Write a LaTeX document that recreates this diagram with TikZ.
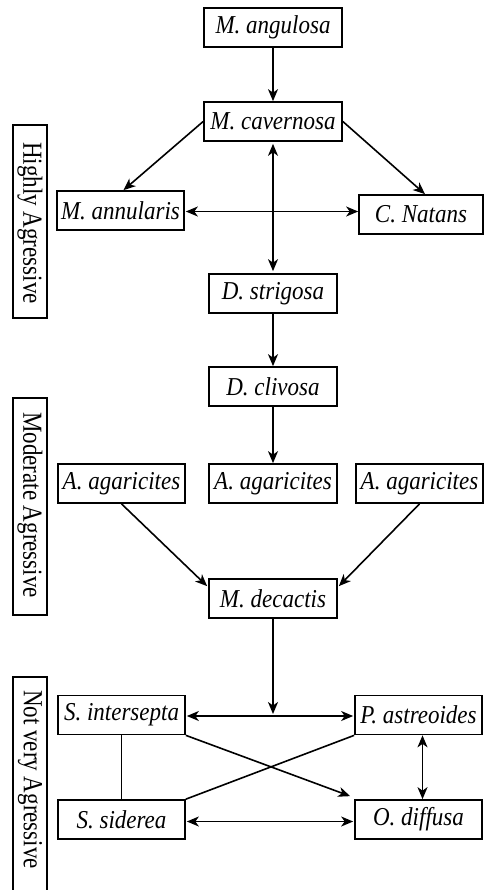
\documentclass[tikz,border=0pt]{standalone}
\usepackage{fontspec}
\setmainfont{Liberation Serif}
\usetikzlibrary{arrows.meta,calc}
\newcommand\tallt[1]{\scalebox{1}[1.12]{#1}}
\tikzset{
  sp/.style={draw, line width=1.7pt, inner sep=0pt, minimum height=39pt,
    font=\fontsize{23}{27}\selectfont\itshape, anchor=center},
  side/.style={inner sep=0pt, rotate=-90, font=\fontsize{23}{27}\selectfont},
  sidebox/.style={draw, line width=1.7pt, inner sep=0pt, minimum height=34pt, rotate=-90},
  ln/.style={line width=1.6pt},
  tip/.tip={Stealth[length=12pt,width=10pt,inset=3.5pt]},
  arr/.style={ln,-tip},
  darr/.style={ln,tip-tip},
}
\begin{document}
\begin{tikzpicture}[x=1pt,y=-1pt]
\useasboundingbox (0,0) rectangle (484,890);
% species nodes
\node[sp, minimum width=138pt] (ang) at (273,27.5) {\tallt{M. angulosa}};
\node[sp, minimum width=138pt] (cav) at (273,121.5) {\tallt{M. cavernosa}};
\node[sp, minimum width=127pt] (ann) at (120.5,210.5) {\tallt{M. annularis}};
\node[sp, minimum width=124pt] (nat) at (421,214.5) {\tallt{C. Natans}};
\node[sp, minimum width=128pt] (str) at (273,293.5) {\tallt{D. strigosa}};
\node[sp, minimum width=128pt] (cli) at (273,386.5) {\tallt{D. clivosa}};
\node[sp, minimum width=127pt] (agl) at (121.5,483.5) {\tallt{A. agaricites}};
\node[sp, minimum width=128pt] (agm) at (273,483.5) {\tallt{A. agaricites}};
\node[sp, minimum width=127pt] (agr) at (419.5,483.5) {\tallt{A. agaricites}};
\node[sp, minimum width=128pt] (dec) at (273,598.5) {\tallt{M. decactis}};
\node[sp, minimum width=127pt] (sint) at (121.5,715) {\tallt{S. intersepta}};
\node[sp, minimum width=127pt] (past) at (418.5,715) {\tallt{P. astreoides}};
\node[sp, minimum width=127pt] (ssid) at (121.5,819.5) {\tallt{S. siderea}};
\node[sp, minimum width=127pt] (odif) at (418.5,819.5) {\tallt{O. diffusa}};
% side labels
\node[sidebox, minimum width=193pt] (hbox) at (30,221.5) {};
\node[side] (htxt) at (30,223) {\scalebox{1}[1.2]{Highly Agressive}};
\node[sidebox, minimum width=217pt] (mbox) at (30,506.5) {};
\node[side] (mtxt) at (30,505) {\scalebox{1}[1.2]{Moderate Agressive}};
\draw[line width=1.7pt] (13,900) -- (13,677) -- (47,677) -- (47,900);
\node[side] (ntxt) at (30,779.5) {\scalebox{1}[1.2]{Not very Agressive}};
% connectors
\draw[arr] (ang.south) -- (cav.north);
\draw[arr] (cav.west) -- ($(ann.north)+(3,0)$);
\draw[arr] (cav.east) -- ($(nat.north)+(4,0)$);
\draw[darr] ($(cav.south)+(0,2)$) -- ($(str.north)+(0,-2)$);
\coordinate (hl) at ($(ann.east)+(1,1)$);
\draw[darr] (hl) -- (hl -| nat.west);
\draw[arr] (str.south) -- (cli.north);
\draw[arr] (cli.south) -- (agm.north);
\draw[arr] (agl.south) -- ($(dec.north west)+(-1,8)$);
\draw[arr] (agr.south) -- ($(dec.north east)+(1,8)$);
\coordinate (mid) at (273,716);
\draw[arr] (dec.south) -- ($(mid)+(0,-2)$);
\draw[darr] ($(sint.east)+(1,1)$) -- ($(past.west)+(-1,1)$);
\draw[arr] (sint.south east) -- ($(odif.north west)+(-4,-3)$);
\draw[ln] (past.south west) -- (ssid.north east);
\draw[ln] (sint.south) -- (ssid.north);
\draw[darr] ($(past.south)+(4,0)$) -- ($(odif.north)+(4,0)$);
\draw[darr] ($(ssid.east)+(1,2)$) -- ($(odif.west)+(-1,2)$);
\end{tikzpicture}
\end{document}
